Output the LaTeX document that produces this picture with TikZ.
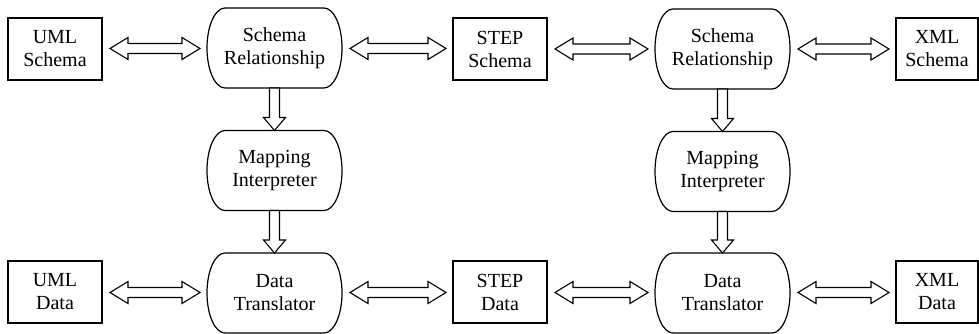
\documentclass[tikz,border=0pt]{standalone}
\usepackage{fontspec}
\setmainfont{Liberation Serif}
\usetikzlibrary{calc}
\tikzset{
  box/.style={draw, line width=1.2pt, minimum width=94pt, minimum height=62pt, inner sep=2pt, outer sep=0pt, align=center, font=\fontsize{20}{23}\selectfont},
  roundy/.style={minimum width=135pt, minimum height=80pt, inner sep=2pt, outer sep=0pt, align=center, font=\fontsize{20}{23}\selectfont},
  outline/.style={draw, line width=1.2pt},
  fatarrow/.style={draw, line width=1.1pt, line join=miter, fill=white}
}
\newcommand\roundout[1]{%
  \draw[outline] ($(#1.north west)+(18pt,0)$) -- ($(#1.north east)+(-18pt,0)$)
    arc[start angle=90,end angle=-90,x radius=18pt,y radius=40pt]
    -- ($(#1.south west)+(18pt,0)$)
    arc[start angle=270,end angle=90,x radius=18pt,y radius=40pt] -- cycle;}
% horizontal double-headed hollow arrow between two nodes
\newcommand\harr[2]{%
  \draw[fatarrow] let \p1=($(#1.east)+(8pt,0)$), \p2=($(#2.west)+(-7pt,0)$), \p3=($(#1.center)!0.5!(#2.center)$) in
    (\x1,\y3) -- (\x1+18pt,\y3+11pt) -- (\x1+18pt,\y3+5pt) -- (\x2-18pt,\y3+5pt) -- (\x2-18pt,\y3+11pt)
    -- (\x2,\y3) -- (\x2-18pt,\y3-11pt) -- (\x2-18pt,\y3-5pt) -- (\x1+18pt,\y3-5pt) -- (\x1+18pt,\y3-11pt) -- cycle;}
% vertical hollow arrow downward between two nodes
\newcommand\varr[2]{%
  \draw[fatarrow] let \p1=(#1.south), \p2=(#2.north) in
    (\x1-5pt,\y1) -- (\x1+5pt,\y1) -- (\x1+5pt,\y2+13pt) -- (\x1+11pt,\y2+13pt) -- (\x1,\y2)
    -- (\x1-11pt,\y2+13pt) -- (\x1-5pt,\y2+13pt) -- cycle;}
\begin{document}
\begin{tikzpicture}[x=1pt,y=1pt]
\useasboundingbox (0,0) rectangle (979,334);
% boxes
\node[box] (umls) at (55,285) {UML\\Schema};
\node[box] (steps) at (500,285) {STEP\\Schema};
\node[box, minimum width=82pt] (xmls) at (937,285) {XML\\Schema};
\node[box] (umld) at (55,42) {UML\\Data};
\node[box] (stepd) at (500,42) {STEP\\Data};
\node[box, minimum width=82pt] (xmld) at (937,42) {XML\\Data};
% rounded process nodes
\node[roundy] (sr1) at (274.5,286) {Schema\\Relationship};
\node[roundy] (mi1) at (274.5,163.5) {Mapping\\Interpreter};
\node[roundy] (dt1) at (274.5,41) {Data\\Translator};
\node[roundy] (sr2) at (722.5,285) {Schema\\Relationship};
\node[roundy] (mi2) at (722.5,162.5) {Mapping\\Interpreter};
\node[roundy] (dt2) at (722.5,41) {Data\\Translator};
\roundout{sr1}\roundout{mi1}\roundout{dt1}
\roundout{sr2}\roundout{mi2}\roundout{dt2}
% arrows
\harr{umls}{sr1}
\harr{sr1}{steps}
\harr{steps}{sr2}
\harr{sr2}{xmls}
\harr{umld}{dt1}
\harr{dt1}{stepd}
\harr{stepd}{dt2}
\harr{dt2}{xmld}
\varr{sr1}{mi1}
\varr{mi1}{dt1}
\varr{sr2}{mi2}
\varr{mi2}{dt2}
\end{tikzpicture}
\end{document}
